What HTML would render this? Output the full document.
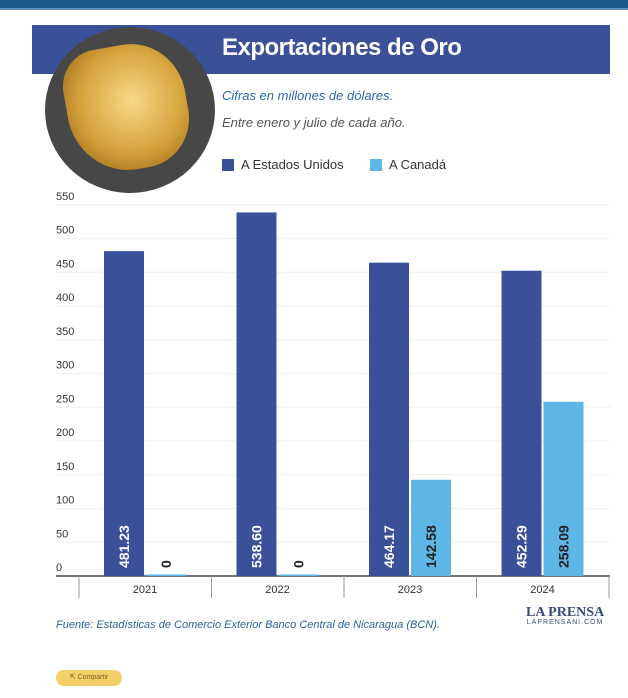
<!DOCTYPE html>
<html><head><meta charset="utf-8"><style>
body{margin:0;width:628px;height:698px;background:#fff;overflow:hidden;font-family:"Liberation Sans",sans-serif;position:relative}
.abs{position:absolute}
</style></head><body>
<div class="abs" style="left:0;top:0;width:628px;height:8px;background:#1b5a86;border-bottom:2px solid #5b8db5"></div>
<div class="abs" style="left:32px;top:25px;width:578px;height:49px;background:#3a5199"></div>
<div class="abs" style="left:222px;top:34px;color:#fff;font-size:24px;font-weight:bold;letter-spacing:-0.5px">Exportaciones de Oro</div>
<div class="abs" style="left:45px;top:27px;width:170px;height:166px;border-radius:50%;background:#474747;overflow:hidden">
<div style="position:absolute;left:22px;top:18px;width:120px;height:125px;background:radial-gradient(circle at 55% 45%,#f7d98a,#d4a23a 55%,#8a5a12);border-radius:30% 45% 40% 50%;transform:rotate(-10deg)"></div></div>
<div class="abs" style="left:222px;top:88px;color:#2e66ad;font-size:13px;font-style:italic">Cifras en millones de dólares.</div>
<div class="abs" style="left:222px;top:115px;color:#555;font-size:13px;font-style:italic">Entre enero y julio de cada año.</div>
<div class="abs" style="left:222px;top:157px;font-size:13px;color:#333"><span style="display:inline-block;width:12px;height:12px;background:#3a5199;vertical-align:-2px;margin-right:7px"></span>A Estados Unidos</div>
<div class="abs" style="left:370px;top:157px;font-size:13px;color:#333"><span style="display:inline-block;width:12px;height:12px;background:#5db6e6;vertical-align:-2px;margin-right:7px"></span>A Canadá</div>
<svg class="abs" id="chart" style="left:0;top:0" width="628" height="698"></svg>
<div class="abs" style="left:56px;top:619px;color:#2e5f9e;font-size:11px;font-style:italic">Fuente: Estadísticas de Comercio Exterior Banco Central de Nicaragua (BCN).</div>
<div class="abs" style="left:526px;top:606px;font-family:'Liberation Serif',serif;color:#3a4a7a;font-size:14px;font-weight:bold;line-height:13px;text-align:center">LA PRENSA<div style="font-family:'Liberation Sans';font-size:7px;font-weight:normal;letter-spacing:1px;line-height:8px">LAPRENSANI.COM</div></div>
<div class="abs" style="left:56px;top:670px;width:66px;height:16px;background:#f3cf6a;border-radius:8px;font-size:7px;color:#7a6520;line-height:16px;text-align:center">⇱ Compartir</div>
<script>
const years=["2021","2022","2023","2024"];
const usValues=[481.23,538.60,464.17,452.29];
const caValues=[0,0,142.58,258.09];
const yTicks=[0,50,100,150,200,250,300,350,400,450,500,550];
const NS="http://www.w3.org/2000/svg";
const svg=document.getElementById('chart');
const y0=576,pxPer=0.675;
const yS=v=>y0-v*pxPer;
const bandX=i=>79+i*132.5;
function mk(t,a){const e=document.createElementNS(NS,t);for(const k in a)e.setAttribute(k,a[k]);svg.appendChild(e);return e;}
yTicks.forEach(v=>{
 if(v>0){const g=mk('line',{x1:56,x2:610,y1:yS(v),y2:yS(v),stroke:'#eee'});
 
 }
 const t=mk('text',{x:56,y:yS(v)-5,'font-size':11,fill:'#333','font-family':'Liberation Sans'});
 t.textContent=v;
 
 
});
const ax=mk('line',{x1:56,x2:610,y1:y0,y2:y0,stroke:'#444','stroke-width':1.5});


for(let i=0;i<=4;i++){const l=mk('line',{x1:bandX(i),x2:bandX(i),y1:y0,y2:y0+22,stroke:'#999'});

}
function label(x,v,col){const t=mk('text',{transform:`translate(${x},${y0-8}) rotate(-90)`,'font-size':14,fill:col,'font-family':'Liberation Sans','font-weight':'bold'});t.textContent=v===0?'0':v.toFixed(2);

}
years.forEach((yr,i)=>{
 const bx=bandX(i)+25;
 const b1=mk('rect',{x:bx,y:yS(usValues[i]),width:40,height:usValues[i]*pxPer,fill:'#3a5199'});
 
 
 const hc=Math.max(caValues[i]*pxPer,1.5);
 const b2=mk('rect',{x:bx+42,y:y0-hc,width:40,height:hc,fill:'#5db6e6'});
 
 
 label(bx+25,usValues[i],'#fff');
 label(bx+67,caValues[i],'#222');
 const t=mk('text',{x:bandX(i)+66,y:y0+17,'font-size':11,fill:'#333','text-anchor':'middle','font-family':'Liberation Sans'});
 t.textContent=yr;
 
 
});
</script>
</body></html>
